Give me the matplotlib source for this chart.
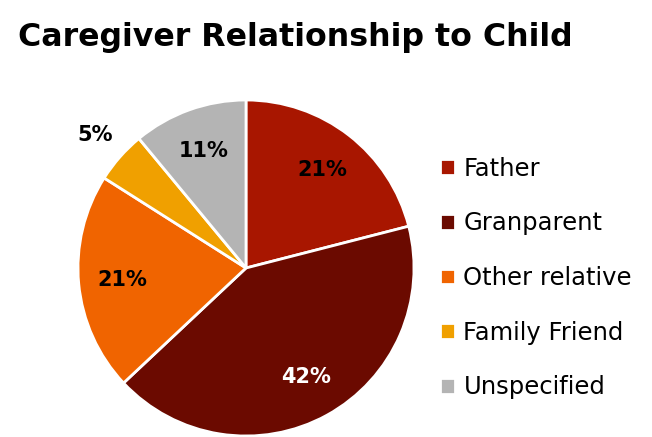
import matplotlib
matplotlib.use("Agg")
import matplotlib.pyplot as plt

labels = ["Father", "Granparent", "Other relative", "Family Friend", "Unspecified"]
shares = [21, 42, 21, 5, 11]
colors = ["#A81600", "#6B0A00", "#F06400", "#F0A000", "#B4B4B4"]
pct_colors = ["black", "white", "black", "black", "black"]

fig = plt.figure(figsize=(6.52, 4.37), dpi=100)
ax = fig.add_axes([78 / 652, 1 / 437, 336 / 652, 336 / 437])

wedges, texts, autotexts = ax.pie(
    shares, colors=colors, startangle=90, counterclock=False,
    autopct="%d%%", pctdistance=0.74,
    wedgeprops=dict(edgecolor="white", linewidth=2),
    textprops=dict(fontsize=15, fontweight="bold"))
for t, c in zip(autotexts, pct_colors):
    t.set_color(c)

# the small slice gets its label outside the pie
x, y = autotexts[3].get_position()
autotexts[3].set_position((x * 1.2 / 0.74, y * 1.2 / 0.74))
ax.set_xlim(-1, 1)
ax.set_ylim(-1, 1)
ax.set_aspect("equal")

fig.text(18 / 652, 1 - 46 / 437, "Caregiver Relationship to Child",
         fontsize=22.8, fontweight="bold", ha="left", va="baseline")

fig.legend(wedges, labels, loc="center left", bbox_to_anchor=(418 / 652, 1 - 278 / 437),
           frameon=False, fontsize=17.5, handlelength=0.62, handleheight=0.62,
           handletextpad=0.35, labelspacing=1.26)

fig.savefig("out.png", dpi=100)
